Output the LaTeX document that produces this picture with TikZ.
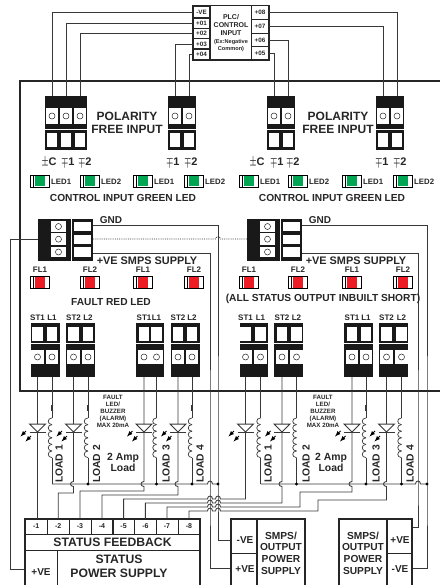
\documentclass[tikz,border=0pt]{standalone}
\usepackage{fontspec}
\setmainfont{Liberation Sans}
\definecolor{wirecol}{gray}{0.22}
\definecolor{ledgreen}{RGB}{0,166,81}
\definecolor{ledred}{RGB}{237,28,36}
\newcommand\fsz[2]{\fontsize{#1}{#2}\selectfont\bfseries}
\newcommand\pmark[1]{\scalebox{0.72}[1.15]{\boldmath$#1$}}
% wire hops
\newcommand\hopright[2]{-- (#1-2.5,#2) .. controls (#1-2.5,#2-4) and (#1+2.5,#2-4) .. (#1+2.5,#2)}
\newcommand\hopleft[2]{-- (#1+2.5,#2) .. controls (#1+2.5,#2-4) and (#1-2.5,#2-4) .. (#1-2.5,#2)}
\newcommand\hopdown[2]{-- (#1,#2-2.5) .. controls (#1-4,#2-2.5) and (#1-4,#2+2.5) .. (#1,#2+2.5)}
\tikzset{
  wire/.style={draw=wirecol,line width=0.85pt},
  frame/.style={draw=black!85,line width=1.5pt},
  lab/.style={inner sep=0pt,text=black!85,align=center},
  pin/.style={draw=black!85,line width=0.8pt,inner sep=0pt,minimum width=17pt,font=\fsz{6.3}{7},text=black!85},
  statpin/.style={draw=black!85,line width=0.7pt,inner sep=0pt,minimum width=21.7pt,minimum height=15pt,font=\fsz{7}{8},text=black!85},
  screw/.style={draw=black!85,fill=white,line width=0.5pt},
  busdot/.style={fill=black,circle,inner sep=0pt,minimum size=3.4pt},
}
\begin{document}
\begin{tikzpicture}[x=1pt,y=-1pt,>=latex]
  \useasboundingbox (0,0) rectangle (439,585);
  % Main panel
  \draw[frame] (20,81) rectangle (445,391);
  % PLC box
  \draw[frame] (193,5.5) rectangle (269,60);
  \draw[frame] (210,5.5) -- (210,60);
  \draw[frame] (251.5,5.5) -- (251.5,60);
  \node[lab,font=\fsz{7}{8}] (plcname) at (231,25) {PLC/\\CONTROL\\INPUT};
  \node[lab,font=\fsz{5.6}{7}] (plcnote) at (231,45.5) {(Ex:Negative\\Common)};
  \node[pin,minimum height=10.8pt] (pinve) at (201.5,12.2) {-VE};
  \foreach \n/\y in {01/23.2,02/33.6,03/44,04/54}
    \node[pin,minimum height=10.4pt] (pin\n) at (201.5,\y) {+\n};
  \foreach \n/\y in {08/12.6,07/26.3,06/40,05/53.6}
    \node[pin,minimum height=13.5pt] (pin\n) at (260,\y) {+\n};
  % Input terminal blocks
  \foreach \l/\r in {45/87,168/196,267/295,376/404}
    \fill[black!90] (\l,96) rectangle (\r,150);
  \foreach \n/\x in {a1/52,a2/66,a3/80,b1/175,b2/189,c1/274,c2/288,d1/383,d2/397}{
    \coordinate (\n) at (\x,96);
    \fill[white] (\x-6.4,108) rectangle (\x+6.4,124.5);
    \draw[screw] (\x,116) circle (3);
    \fill[white] (\x-5.3,133) rectangle (\x+5.3,147);
  }
  \foreach \l/\r in {45/87,168/196,267/295,376/404}
    \draw[white,line width=0.7pt] (\l,129.5) -- (\r,129.5);
  % Input wires
  \draw[wire] (pinve.west) -| (a1);
  \draw[wire] (pin01.west) -| (a2);
  \draw[wire] (pin02.west) -| (a3);
  \draw[wire] (pin03.west) -| (b1);
  \draw[wire] (pin04.west) -| (b2);
  \draw[wire] (pin05.east) -| (c1);
  \draw[wire] (pin06.east) -| (c2);
  \draw[wire] (pin07.east) -| (d1);
  \draw[wire] (pin08.east) -| (d2);
  % Input labels
  \node[lab,font=\fsz{12}{13.5}] (polara) at (127,123) {POLARITY\\FREE INPUT};
  \node[lab,font=\fsz{12}{13.5}] (polarb) at (338,123) {POLARITY\\FREE INPUT};
  \foreach \n/\x in {a/49,c/257}
    \node[lab,font=\fsz{11}{12}] (com\n) at (\x,162) {\pmark{\pm}C};
  \foreach \n/\x/\t in {a1/68/1,a2/85/2,b1/173/1,b2/191/2,c1/277/1,c2/293/2,d1/382/1,d2/400/2}
    \node[lab,font=\fsz{11}{12}] (mark\n) at (\x,162) {\pmark{\mp}\t};
  \node[lab,font=\fsz{10.2}{11}] (ctla) at (123,198) {CONTROL INPUT GREEN LED};
  \node[lab,font=\fsz{10.2}{11}] (ctlb) at (332,198) {CONTROL INPUT GREEN LED};
  % LEDs
  \foreach \x/\t [count=\i] in {30/LED1,80/LED2,133/LED1,184/LED2,239/LED1,288/LED2,342/LED1,393/LED2}{
    \draw[fill=white,line width=0.8pt] (\x,175.5) rectangle (\x+19,187);
    \fill[ledgreen] (\x+4.5,176) rectangle (\x+14.5,186.5);
    \draw[line width=0.7pt] (\x+3.5,175.5) -- (\x+3.5,187);
    \node[lab,font=\fsz{7.8}{8},anchor=west] (gled\i) at (\x+21,181.5) {\t};
  }
  \foreach \x/\t [count=\i] in {30/FL1,80/FL2,133/FL1,184/FL2,239/FL1,288/FL2,342/FL1,393/FL2}{
    \draw[fill=white,line width=0.8pt] (\x,276.5) rectangle (\x+19,288.5);
    \fill[ledred] (\x+4.5,277) rectangle (\x+14.5,288);
    \draw[line width=0.7pt] (\x+3.5,276.5) -- (\x+3.5,288.5);
    \node[lab,font=\fsz{8}{8}] (fled\i) at (\x+10,270) {\t};
  }
  % Supply blocks
  \foreach \n/\d in {a/0,b/209}{
    \fill[black!90] (38+\d,219) rectangle (93+\d,261);
    \foreach \y/\h in {226.5/5.5,239.2/5.8,252/5.2}{
      \fill[white] (51+\d,\y-\h) rectangle (65.7+\d,\y+\h);
      \draw[screw] (58.5+\d,\y) circle (3);
      \fill[white] (74.3+\d,\y-4.6) rectangle (91+\d,\y+4.6);
    }
    \draw[white,line width=0.5pt] (70.8+\d,219) -- (70.8+\d,261);
    \coordinate (gnd\n) at (93+\d,225);
    \coordinate (mid\n) at (38+\d,239);
    \coordinate (sup\n) at (93+\d,253);
  }
  \coordinate (midout) at (93,239);
  \coordinate (bushopa) at (210,484);
  \coordinate (busenda) at (218,484);
  \coordinate (bushopb) at (418,484);
  \coordinate (busendb) at (427,484);
  \coordinate (feedcorner) at (10,569);
  \coordinate (negalead) at (231,540);
  \coordinate (posalead) at (231,568);
  \coordinate (posblead) at (412,527);
  \coordinate (negblead) at (412,568);
  \coordinate (statplus) at (25,569);
  % Supply wires
  \draw[wire] (gnda) -| (busenda) |- (negalead);
  \draw[wire] (supa) -| (bushopa) |- (posalead);
  \draw[wire] (gndb) -| (busendb) |- (negblead);
  \draw[wire] (supb) -| (bushopb) |- (posblead);
  \draw[wire] (mida) -| (feedcorner) -- (statplus);
  \draw[wire,densely dotted] (midout) -- (215.5,239) .. controls (216,236) and (220,236) .. (220.5,239) -- (midb);
  \node[lab,font=\fsz{10}{11}] (gndlaba) at (111,220) {GND};
  \node[lab,font=\fsz{10}{11}] (gndlabb) at (320,220) {GND};
  \node[lab,font=\fsz{10.9}{12}] (supplaba) at (147,261) {+VE SMPS SUPPLY};
  \node[lab,font=\fsz{10.9}{12}] (supplabb) at (356,261) {+VE SMPS SUPPLY};
  \node[lab,font=\fsz{10.2}{11}] (faultlab) at (111,302) {FAULT RED LED};
  \node[lab,font=\fsz{10.2}{11}] (shortlab) at (323,299) {(ALL STATUS OUTPUT INBUILT SHORT)};
  % Output terminal blocks
  \foreach \l/\r in {31/60,66/95,136/164,171/200,240/268,274/303,344/373,379/408}{
    \fill[black!90] (\l,323) rectangle (\r,377);
    \draw[white,line width=0.6pt] (\l,343.5) -- (\r,343.5);
  }
  \foreach \x/\t [count=\i] in {37.5/ST1,52/L1,73.5/ST2,88/L2,144/ST1,156.5/L1,178/ST2,192/L2,245.5/ST1,260.5/L1,282/ST2,296.5/L2,352/ST1,366/L1,386.5/ST2,401.5/L2}{
    \coordinate (out\i) at (\x,377);
    \fill[white] (\x-5.3,326.5) rectangle (\x+5.3,340.5);
    \fill[white] (\x-6.4,350) rectangle (\x+6.4,364);
    \draw[screw] (\x,357) circle (3);
    \node[lab,font=\fsz{8}{8}] (term\i) at (\x,318) {\t};
  }
  % Status box
  \draw[frame] (25,519) rectangle (200,590);
  \foreach \x [count=\i] in {36.2,58.2,80,102,123.6,145.4,167,189}
    \node[statpin] (st\i) at (\x,526.5) {-\i};
  \draw[frame,line width=1pt] (25,550) -- (200,550);
  \draw[frame,line width=1pt] (57,550) -- (57,590);
  \node[lab,font=\fsz{12.2}{13}] (stfeed) at (112.5,542) {STATUS FEEDBACK};
  \node[lab,font=\fsz{12.2}{14}] (stpower) at (119,566) {STATUS\\POWER SUPPLY};
  \node[lab,font=\fsz{10}{11}] (stplus) at (41,572) {+VE};
  % Output wires
  \draw[wire] (out1) -- (out1 |- st1.north);
  \draw[wire] (out3) \hopdown{73.5}{484} -- (73.5,493) -| (st2.north);
  \draw[wire] (out5) \hopdown{144}{484} -- (144,491) -| (st3.north);
  \draw[wire] (out7) \hopdown{178}{484} -- (178,495) -| (st4.north);
  \draw[wire] (out9) -- (245.5,499) \hopleft{218}{499} \hopleft{210}{499} -| (st5.north);
  \draw[wire] (out11) \hopdown{282}{484} -- (282,503) \hopleft{218}{503} \hopleft{210}{503} -| (st6.north);
  \draw[wire] (out13) \hopdown{352}{484} -- (352,492) -- (300,492) -- (300,507) \hopleft{218}{507} \hopleft{210}{507} -| (st7.north);
  \draw[wire] (out15) \hopdown{386.5}{484} -- (386.5,500) -- (318,500) -- (318,511) \hopleft{218}{511} \hopleft{210}{511} -| (st8.north);
  % LED symbols
  \foreach \x/\i in {37.5/1,73.5/3,144/5,178/7,245.5/9,282/11,352/13,386.5/15}{
    \draw[wire,fill=white,line width=1pt] (\x-8,424) -- (\x+8,424) -- (\x,432) -- cycle;
    \draw[wire,line width=1pt] (\x-8,432) -- (\x+8,432);
    \draw[->,line width=0.9pt] (\x-11.5,431) -- (\x-17,436.5);
    \draw[->,line width=0.9pt] (\x-6.5,436) -- (\x-12,441.5);
  }
  % Load coils and bus
  \foreach \x/\i in {52/2,88/4,156.5/6,192/8,260.5/10,296.5/12,366/14,401.5/16}{
    \coordinate (bus\i) at (\x,484);
    \draw[wire] (out\i) -- (\x,418);
    \draw[wire,line width=1.3pt] (\x,405) -- (\x,411);
    \foreach \k in {0,...,5}
      \draw[wire,line width=0.7pt] (\x,418+6.6*\k) .. controls (\x-5,418+6.6*\k) and (\x-5,424.6+6.6*\k) .. (\x,424.6+6.6*\k);
    \draw[wire] (\x,457.6) -- (bus\i);
  }
  \draw[wire] (bus2) \hopright{210}{484} -- (busenda);
  \draw[wire] (bus10) \hopright{418}{484} -- (busendb);
  \foreach \c in {bus4,bus6,bus8,busenda,bus12,bus14,bus16,busendb}
    \node[busdot] (dot\c) at (\c) {};
  \foreach \x/\t [count=\i] in {59/LOAD 1,96.5/LOAD 2,166/LOAD 3,200/LOAD 4,268/LOAD 1,306/LOAD 2,376/LOAD 3,410/LOAD 4}
    \node[lab,font=\fsz{10.3}{11},rotate=90] (loadlab\i) at (\x,464) {\t};
  \foreach \n/\x in {a/123,b/331}
    \node[lab,font=\fsz{10.4}{11.5}] (amp\n) at (\x,462.5) {2 Amp\\Load};
  \foreach \n/\x in {a/113,b/323}
    \node[lab,font=\fsz{6.2}{7}] (alarm\n) at (\x,411) {FAULT\\LED/\\BUZZER\\(ALARM)\\MAX 20mA};
  % Output supply boxes
  \draw[frame] (231,519) rectangle (305,590);
  \draw[frame] (257,519) -- (257,590);
  \draw[frame,line width=1pt] (231,553) -- (257,553);
  \node[lab,font=\fsz{10}{11}] (negalab) at (245,540) {-VE};
  \node[lab,font=\fsz{10}{11}] (posalab) at (245,569) {+VE};
  \node[lab,font=\fsz{10.2}{11.6}] (smpsa) at (281,553) {SMPS/\\OUTPUT\\POWER\\SUPPLY};
  \draw[frame] (339,519) rectangle (412,590);
  \draw[frame] (387,519) -- (387,590);
  \draw[frame,line width=1pt] (387,553) -- (412,553);
  \node[lab,font=\fsz{10}{11}] (posblab) at (400,540) {+VE};
  \node[lab,font=\fsz{10}{11}] (negblab) at (400,569) {-VE};
  \node[lab,font=\fsz{10.2}{11.6}] (smpsb) at (363,553) {SMPS/\\OUTPUT\\POWER\\SUPPLY};
\end{tikzpicture}
\end{document}
